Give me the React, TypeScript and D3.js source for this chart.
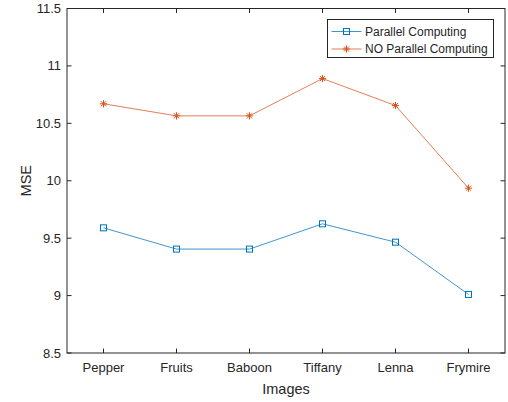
import React from "react";
import * as d3 from "d3";

const categories = ["Pepper", "Fruits", "Baboon", "Tiffany", "Lenna", "Frymire"];
const parallelValues = [9.59, 9.405, 9.405, 9.625, 9.465, 9.01];
const noParallelValues = [10.67, 10.565, 10.565, 10.89, 10.655, 9.935];
const yTicks = [8.5, 9, 9.5, 10, 10.5, 11, 11.5];
const seriesNames = ["Parallel Computing", "NO Parallel Computing"];

const W = 508, H = 402;
const M = { left: 67, right: 505, top: 8.5, bottom: 353 };
const axisColor = "#262626";
const blue = "#0072BD";
const orange = "#D95319";
const font = "'Liberation Sans', Arial, Helvetica, sans-serif";

export default function App() {
  const x = d3.scaleLinear().domain([0.5, 6.5]).range([M.left, M.right]);
  const y = d3.scaleLinear().domain([8.5, 11.5]).range([M.bottom, M.top]);
  const line = d3.line<number>().x((_, i) => x(i + 1)).y((d) => y(d));
  const tl = 4.5;

  const square = (cx: number, cy: number, color: string, key: string | number) => (
    <rect key={key} x={cx - 3} y={cy - 3} width={6} height={6} fill="none" stroke={color} strokeWidth={1} />
  );
  const star = (cx: number, cy: number, color: string, key: string | number) => {
    const r = 3.6;
    const d = r * 0.707;
    return (
      <g key={key} stroke={color} strokeWidth={1}>
        <line x1={cx - r} y1={cy} x2={cx + r} y2={cy} />
        <line x1={cx} y1={cy - r} x2={cx} y2={cy + r} />
        <line x1={cx - d} y1={cy - d} x2={cx + d} y2={cy + d} />
        <line x1={cx - d} y1={cy + d} x2={cx + d} y2={cy - d} />
      </g>
    );
  };

  const lx = 327.5, ly = 19.5, lw = 166, lh = 38;

  return (
    <svg width={W} height={H} style={{ position: "absolute", left: 0, top: 0, background: "#fff" }}>
      <rect x={0} y={0} width={W} height={H} fill="#fff" />
      {/* ticks */}
      {categories.map((c, i) => (
        <g key={c}>
          <line x1={x(i + 1)} x2={x(i + 1)} y1={M.bottom} y2={M.bottom - tl} stroke={axisColor} />
          <line x1={x(i + 1)} x2={x(i + 1)} y1={M.top} y2={M.top + tl} stroke={axisColor} />
          <text x={x(i + 1)} y={M.bottom + 19} textAnchor="middle" fontFamily={font} fontSize={13} fill={axisColor}>{c}</text>
        </g>
      ))}
      {yTicks.map((t) => (
        <g key={t}>
          <line x1={M.left} x2={M.left + tl} y1={y(t)} y2={y(t)} stroke={axisColor} />
          <line x1={M.right} x2={M.right - tl} y1={y(t)} y2={y(t)} stroke={axisColor} />
          <text x={M.left - 6} y={y(t)} dy="0.35em" textAnchor="end" fontFamily={font} fontSize={13} fill={axisColor}>{String(t)}</text>
        </g>
      ))}
      <rect x={M.left} y={M.top} width={M.right - M.left} height={M.bottom - M.top} fill="none" stroke={axisColor} strokeWidth={1} />
      {/* lines */}
      <path d={line(parallelValues) || ""} fill="none" stroke={blue} strokeWidth={1} strokeOpacity={0.75} />
      <path d={line(noParallelValues) || ""} fill="none" stroke={orange} strokeWidth={1} strokeOpacity={0.75} />
      {parallelValues.map((v, i) => square(x(i + 1), y(v), blue, "s" + i))}
      {noParallelValues.map((v, i) => star(x(i + 1), y(v), orange, "a" + i))}
      {/* axis labels */}
      <text x={(M.left + M.right) / 2} y={394} textAnchor="middle" fontFamily={font} fontSize={14.5} fill={axisColor}>Images</text>
      <text transform={`translate(${31},${(M.top + M.bottom) / 2}) rotate(-90)`} textAnchor="middle" fontFamily={font} fontSize={14.5} fill={axisColor}>MSE</text>
      {/* legend */}
      <rect x={lx} y={ly} width={lw} height={lh} fill="#fff" stroke={axisColor} strokeWidth={1} />
      {seriesNames.map((n, i) => {
        const yy = ly + 12 + i * 17.5;
        return (
          <g key={n}>
            <line x1={lx + 4} x2={lx + 34} y1={yy} y2={yy} stroke={i === 0 ? blue : orange} strokeWidth={1} strokeOpacity={0.75} />
            {i === 0 ? square(lx + 19, yy, blue, "ls") : star(lx + 19, yy, orange, "la")}
            <text x={lx + 37.5} y={yy} dy="0.35em" fontFamily={font} fontSize={12} fill={axisColor}>{n}</text>
          </g>
        );
      })}
    </svg>
  );
}
